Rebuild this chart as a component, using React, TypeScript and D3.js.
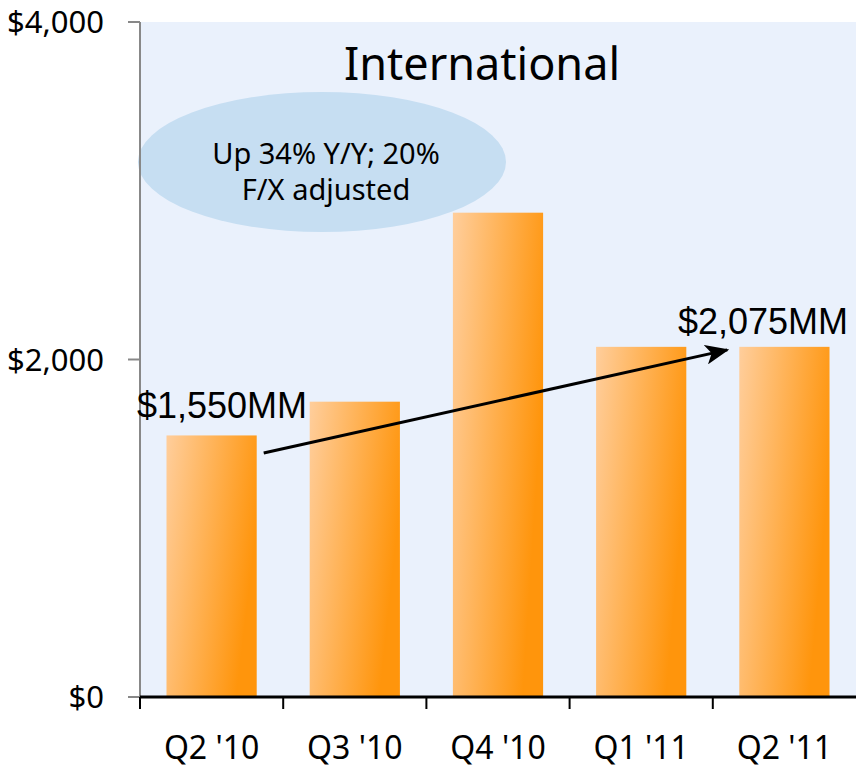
import React from 'react';
import * as d3 from 'd3';

// quarterly international revenue, $MM
const quarters = ["Q2 '10", "Q3 '10", "Q4 '10", "Q1 '11", "Q2 '11"];
const revenue = [1550, 1750, 2870, 2075, 2075];
const yTicks = [0, 2000, 4000];

const title = 'International';
const calloutLines = ['Up 34% Y/Y; 20%', 'F/X adjusted'];
const startLabel = '$1,550MM';
const endLabel = '$2,075MM';

const width = 856;
const height = 771;
const margin = { top: 22, right: 0, bottom: 74, left: 140 };

const App = () => {
  const innerW = width - margin.left - margin.right;
  const innerH = height - margin.top - margin.bottom;

  const x = d3.scaleBand().domain(quarters).range([margin.left, margin.left + innerW]).padding(0);
  const y = d3.scaleLinear().domain([0, 4000]).range([margin.top + innerH, margin.top]);

  const barW = x.bandwidth() * 0.63;
  const barX = (q) => x(q) + (x.bandwidth() - barW) / 2;

  const fmt = d3.format('$,');
  const font = "'Noto Sans', Tahoma, sans-serif";
  const labelFont = "'Liberation Sans', Arial, sans-serif";

  // arrow from first bar to last bar
  const ax1 = barX(quarters[0]) + barW + 7;
  const ay1 = y(1446);
  const ax2 = barX(quarters[4]) - 12;
  const ay2 = y(revenue[4]) + 3;

  return (
    <svg width={width} height={height} style={{ display: 'block', position: 'absolute', left: 0, top: 0 }}>
      <defs>
        <linearGradient id="barGrad" x1="0" y1="0" x2="1" y2="0.35">
          <stop offset="0%" stopColor="#FFCE9C" />
          <stop offset="100%" stopColor="#FF950C" />
        </linearGradient>
        <marker id="arrowHead" viewBox="0 0 24 20" refX="22" refY="10" markerWidth="24" markerHeight="20" orient="auto" markerUnits="userSpaceOnUse">
          <path d="M0,0 L24,10 L0,20 L6,10 Z" fill="#000" />
        </marker>
      </defs>

      {/* plot background */}
      <rect x={margin.left} y={margin.top} width={innerW} height={innerH} fill="#EAF1FC" />

      {/* title */}
      <text x={482} y={80} textAnchor="middle" fontFamily={font} fontSize={45} fill="#000">{title}</text>

      {/* callout bubble */}
      <ellipse cx={322} cy={162} rx={184} ry={70} fill="#C6DEF2" />
      {calloutLines.map((t, i) => (
        <text key={t} x={326} y={164 + i * 36} textAnchor="middle" fontFamily={font} fontSize={29} fill="#000">{t}</text>
      ))}

      {/* bars */}
      {quarters.map((q, i) => (
        <rect key={q} x={barX(q)} y={y(revenue[i])} width={barW} height={y(0) - y(revenue[i])} fill="url(#barGrad)" />
      ))}

      {/* y axis */}
      <line x1={margin.left} x2={margin.left} y1={margin.top} y2={y(0)} stroke="#888" strokeWidth={2} />
      {yTicks.map((t) => (
        <g key={t}>
          <line x1={margin.left - 12} x2={margin.left} y1={y(t)} y2={y(t)} stroke="#888" strokeWidth={2} />
          <text x={104} y={y(t) + 11} textAnchor="end" fontFamily={font} fontSize={31} fill="#000">{fmt(t)}</text>
        </g>
      ))}

      {/* x axis */}
      <line x1={margin.left} x2={width} y1={y(0)} y2={y(0)} stroke="#000" strokeWidth={3} />
      {quarters.map((q) => (
        <line key={q} x1={x(q)} x2={x(q)} y1={y(0)} y2={y(0) + 12} stroke="#000" strokeWidth={2} />
      ))}
      {quarters.map((q) => (
        <text key={q} x={x(q) + x.bandwidth() / 2} y={759} textAnchor="middle" fontFamily={font} fontSize={32} fill="#000">{q}</text>
      ))}

      {/* growth arrow + labels */}
      <line x1={ax1} y1={ay1} x2={ax2} y2={ay2} stroke="#000" strokeWidth={3} markerEnd="url(#arrowHead)" />
      <text x={137} y={418} fontFamily={labelFont} fontSize={36} fill="#000">{startLabel}</text>
      <text x={848} y={334} textAnchor="end" fontFamily={labelFont} fontSize={36} fill="#000">{endLabel}</text>
    </svg>
  );
};

export default App;
